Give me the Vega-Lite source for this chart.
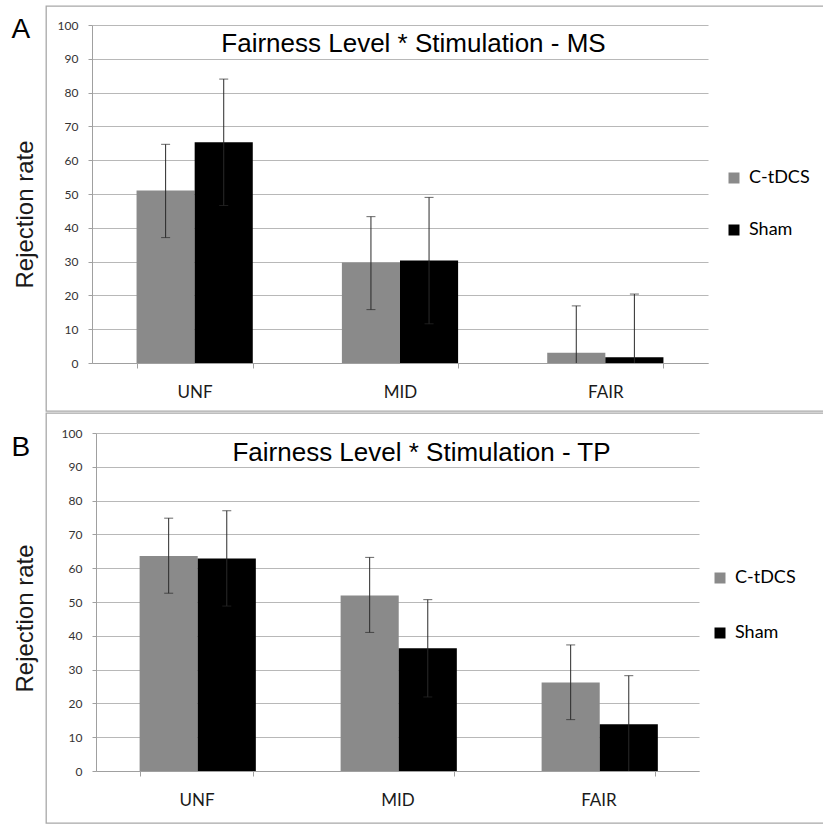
{
  "$schema": "https://vega.github.io/schema/vega-lite/v6.json",
  "padding": {"left": 10, "top": 5, "right": 0, "bottom": 1},
  "background": "white",
  "datasets": {
    "bars": [
      {"panel": "MS", "level": "UNF", "stim": "C-tDCS", "rate": 51.0, "lo": 37.1, "hi": 64.7},
      {"panel": "MS", "level": "UNF", "stim": "Sham", "rate": 65.3, "lo": 46.6, "hi": 84.0},
      {"panel": "MS", "level": "MID", "stim": "C-tDCS", "rate": 29.7, "lo": 15.8, "hi": 43.3},
      {"panel": "MS", "level": "MID", "stim": "Sham", "rate": 30.3, "lo": 11.6, "hi": 49.0},
      {"panel": "MS", "level": "FAIR", "stim": "C-tDCS", "rate": 3.0, "lo": 0, "hi": 16.9},
      {"panel": "MS", "level": "FAIR", "stim": "Sham", "rate": 1.7, "lo": 0, "hi": 20.4},
      {"panel": "TP", "level": "UNF", "stim": "C-tDCS", "rate": 63.6, "lo": 52.6, "hi": 74.8},
      {"panel": "TP", "level": "UNF", "stim": "Sham", "rate": 62.9, "lo": 48.8, "hi": 77.0},
      {"panel": "TP", "level": "MID", "stim": "C-tDCS", "rate": 51.9, "lo": 41.0, "hi": 63.2},
      {"panel": "TP", "level": "MID", "stim": "Sham", "rate": 36.3, "lo": 21.9, "hi": 50.7},
      {"panel": "TP", "level": "FAIR", "stim": "C-tDCS", "rate": 26.2, "lo": 15.2, "hi": 37.3},
      {"panel": "TP", "level": "FAIR", "stim": "Sham", "rate": 13.8, "lo": 0, "hi": 28.2}
    ]
  },
  "spacing": 0,
  "resolve": {"legend": {"color": "independent"}},
  "vconcat": [
    {
      "width": 778,
      "height": 405,
      "data": {"name": "bars"},
      "transform": [{"filter": "datum.panel === 'MS'"}],
      "resolve": {"axis": {"x": "independent"}},
      "encoding": {
        "x": {
          "field": "level", "type": "nominal", "sort": ["UNF", "MID", "FAIR"],
          "scale": {"range": [46, 662], "paddingInner": 0.434, "paddingOuter": 0.217},
          "axis": {"title": "A", "offset": -48, "titleX": -35, "titleY": -326}
        },
        "xOffset": {"field": "stim", "type": "nominal", "sort": ["C-tDCS", "Sham"], "scale": {"paddingInner": 0, "paddingOuter": 0}},
        "y": {
          "field": "rate", "type": "quantitative", "title": "Rejection rate",
          "scale": {"domain": [0, 100], "range": [357, 19], "nice": false},
          "axis": {"values": [0, 10, 20, 30, 40, 50, 60, 70, 80, 90, 100], "offset": -46, "titleX": -67, "titleY": 208}
        }
      },
      "layer": [
        {
          "mark": {"type": "bar"},
          "encoding": {
            "color": {
              "field": "stim", "type": "nominal",
              "scale": {"domain": ["C-tDCS", "Sham"], "range": ["#8a8a8a", "#000000"]},
              "legend": {"legendX": 679, "legendY": 163, "rowPadding": 34}
            }
          }
        },
        {
          "mark": {"type": "rule", "color": "#2a2a2a", "strokeWidth": 1},
          "encoding": {
            "x": {
              "field": "level", "type": "nominal", "sort": ["UNF", "MID", "FAIR"],
              "axis": {
                "orient": "top", "title": "Fairness Level * Stimulation - MS", "labels": false, "ticks": false, "domain": false,
                "titleX": 367, "titleY": 45, "titleAlign": "center", "titleBaseline": "alphabetic",
                "titleFont": "Liberation Sans", "titleFontSize": 26, "titleColor": "#000000"
              }
            },
            "y": {"field": "lo", "type": "quantitative", "title": "Rejection rate"},
            "y2": {"field": "hi"}
          }
        },
        {
          "mark": {"type": "tick", "color": "#2a2a2a", "thickness": 1, "size": 9},
          "encoding": {
            "x": {"field": "level", "type": "nominal", "sort": ["UNF", "MID", "FAIR"], "axis": null},
            "y": {"field": "hi", "type": "quantitative", "title": "Rejection rate"}
          }
        },
        {
          "transform": [{"filter": "datum.lo > 0"}],
          "mark": {"type": "tick", "color": "#2a2a2a", "thickness": 1, "size": 9},
          "encoding": {
            "x": {"field": "level", "type": "nominal", "sort": ["UNF", "MID", "FAIR"], "axis": null},
            "y": {"field": "lo", "type": "quantitative", "title": "Rejection rate"}
          }
        }
      ]
    },
    {
      "width": 778,
      "height": 410,
      "data": {"name": "bars"},
      "transform": [{"filter": "datum.panel === 'TP'"}],
      "resolve": {"axis": {"x": "independent"}},
      "encoding": {
        "x": {
          "field": "level", "type": "nominal", "sort": ["UNF", "MID", "FAIR"],
          "scale": {"range": [50, 653], "paddingInner": 0.434, "paddingOuter": 0.217},
          "axis": {"title": "B", "offset": -52, "titleX": -35, "titleY": -316}
        },
        "xOffset": {"field": "stim", "type": "nominal", "sort": ["C-tDCS", "Sham"], "scale": {"paddingInner": 0, "paddingOuter": 0}},
        "y": {
          "field": "rate", "type": "quantitative", "title": "Rejection rate",
          "scale": {"domain": [0, 100], "range": [358, 20], "nice": false},
          "axis": {"values": [0, 10, 20, 30, 40, 50, 60, 70, 80, 90, 100], "offset": -50, "titleX": -71, "titleY": 205}
        }
      },
      "layer": [
        {
          "mark": {"type": "bar"},
          "encoding": {
            "color": {
              "field": "stim", "type": "nominal",
              "scale": {"domain": ["C-tDCS", "Sham"], "range": ["#8a8a8a", "#000000"]},
              "legend": {"legendX": 665, "legendY": 156, "rowPadding": 37}
            }
          }
        },
        {
          "mark": {"type": "rule", "color": "#2a2a2a", "strokeWidth": 1},
          "encoding": {
            "x": {
              "field": "level", "type": "nominal", "sort": ["UNF", "MID", "FAIR"],
              "axis": {
                "orient": "top", "title": "Fairness Level * Stimulation - TP", "labels": false, "ticks": false, "domain": false,
                "titleX": 375, "titleY": 47, "titleAlign": "center", "titleBaseline": "alphabetic",
                "titleFont": "Liberation Sans", "titleFontSize": 26, "titleColor": "#000000"
              }
            },
            "y": {"field": "lo", "type": "quantitative", "title": "Rejection rate"},
            "y2": {"field": "hi"}
          }
        },
        {
          "mark": {"type": "tick", "color": "#2a2a2a", "thickness": 1, "size": 9},
          "encoding": {
            "x": {"field": "level", "type": "nominal", "sort": ["UNF", "MID", "FAIR"], "axis": null},
            "y": {"field": "hi", "type": "quantitative", "title": "Rejection rate"}
          }
        },
        {
          "transform": [{"filter": "datum.lo > 0"}],
          "mark": {"type": "tick", "color": "#2a2a2a", "thickness": 1, "size": 9},
          "encoding": {
            "x": {"field": "level", "type": "nominal", "sort": ["UNF", "MID", "FAIR"], "axis": null},
            "y": {"field": "lo", "type": "quantitative", "title": "Rejection rate"}
          }
        }
      ]
    }
  ],
  "config": {
    "view": {"stroke": "#a8a8a8", "strokeWidth": 1.3},
    "axis": {
      "domainColor": "#a0a0a0", "tickColor": "#a0a0a0", "gridColor": "#b8b8b8", "gridWidth": 1.2,
      "labelColor": "#333333", "labelFont": "Lato",
      "titleColor": "#1a1a1a", "titleFont": "Liberation Sans", "titleFontWeight": "normal"
    },
    "axisY": {
      "grid": true, "labelFontSize": 12, "tickSize": 4, "labelPadding": 10, "titleFontSize": 24,
      "titleAngle": -90, "titleAlign": "center", "titleBaseline": "middle"
    },
    "axisX": {
      "grid": false, "labelFontSize": 17, "labelAngle": 0, "labelPadding": 16, "tickSize": 5,
      "tickBand": "extent", "labelColor": "#1a1a1a",
      "titleFontSize": 28, "titleAlign": "left", "titleBaseline": "alphabetic", "titleColor": "#000000"
    },
    "legend": {
      "orient": "none", "title": null, "symbolType": "square", "symbolSize": 121, "symbolStrokeWidth": 0,
      "labelFont": "Lato", "labelFontSize": 18, "labelColor": "#000000", "labelOffset": 6, "padding": 0
    }
  }
}
